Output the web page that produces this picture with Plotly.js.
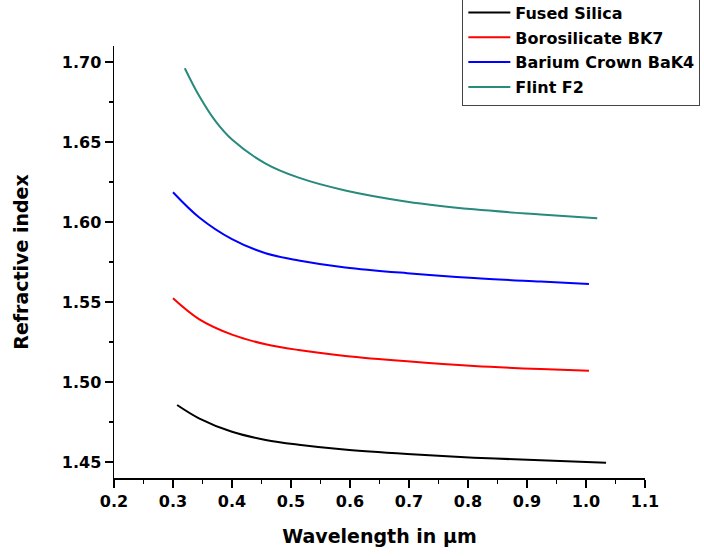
<!DOCTYPE html>
<html>
<head>
<meta charset="utf-8">
<script src="https://cdn.plot.ly/plotly-3.0.1.min.js"></script>
<style>html,body{margin:0;padding:0;background:#fff;}#chart{width:704px;height:556px;}</style>
</head>
<body>
<div id="chart"></div>
<script>
// Wavelength (µm) and refractive index
const silicaWl = [0.307, 0.344, 0.400, 0.457, 0.513, 0.590, 0.697, 0.810, 0.923, 1.034];
const silicaN  = [1.4856, 1.4773, 1.4689, 1.4638, 1.4608, 1.4578, 1.4550, 1.4527, 1.4511, 1.4496];

const bk7Wl = [0.300, 0.344, 0.400, 0.457, 0.513, 0.592, 0.697, 0.810, 0.923, 1.005];
const bk7N  = [1.5523, 1.5393, 1.5296, 1.5236, 1.5200, 1.5163, 1.5129, 1.5100, 1.5081, 1.5071];

const bak4Wl = [0.300, 0.344, 0.400, 0.457, 0.513, 0.592, 0.697, 0.810, 0.923, 1.005];
const bak4N  = [1.6186, 1.6030, 1.5893, 1.5805, 1.5760, 1.5716, 1.5680, 1.5650, 1.5628, 1.5613];

const f2Wl = [0.320, 0.344, 0.372, 0.400, 0.457, 0.513, 0.592, 0.697, 0.810, 0.923, 1.019];
const f2N  = [1.6961, 1.6790, 1.6630, 1.6515, 1.6365, 1.6277, 1.6197, 1.6127, 1.6079, 1.6047, 1.6023];

const seriesNames = ['Fused Silica', 'Borosilicate BK7', 'Barium Crown BaK4', 'Flint F2'];
const seriesColors = ['#000000', '#ff0000', '#0000ff', '#28897d'];

const xs = [silicaWl, bk7Wl, bak4Wl, f2Wl];
const ys = [silicaN, bk7N, bak4N, f2N];

const FONT = 'DejaVu Sans, Arial, sans-serif';

const traces = seriesNames.map((name, i) => ({
  type: 'scatter',
  mode: 'lines',
  name: name,
  x: xs[i],
  y: ys[i],
  legendgroup: 'g' + i,
  line: {color: seriesColors[i], width: 2, shape: 'spline', smoothing: 1},
  hoverinfo: 'x+y+name'
}));

const layout = {
  width: 704,
  height: 556,
  paper_bgcolor: '#ffffff',
  plot_bgcolor: '#ffffff',
  margin: {l: 113.5, r: 59.4, t: 46, b: 78, autoexpand: false},
  font: {family: FONT, color: '#000', size: 16},
  showlegend: true,
  legend: {
    x: 0.656, xanchor: 'left',
    y: 0.862, yanchor: 'bottom',
    bgcolor: '#ffffff',
    bordercolor: '#444444',
    borderwidth: 1,
    tracegroupgap: 1,
    itemwidth: 42,
    font: {family: FONT, size: 16, color: '#000', weight: 'bold'}
  },
  xaxis: {
    range: [0.2, 1.1],
    dtick: 0.1,
    tick0: 0.2,
    tickformat: '.1f',
    ticks: 'outside',
    ticklen: 8,
    tickwidth: 1.5,
    tickcolor: '#000',
    showline: true,
    linecolor: '#000',
    linewidth: 1.5,
    showgrid: false,
    zeroline: false,
    minor: {dtick: 0.05, ticks: 'outside', ticklen: 4, tickwidth: 1.5, tickcolor: '#000', showgrid: false},
    tickfont: {family: FONT, size: 16, color: '#000', weight: 'bold'},
    title: {text: 'Wavelength in µm', font: {family: FONT, size: 19, color: '#000', weight: 'bold'}, standoff: 20}
  },
  yaxis: {
    range: [1.44, 1.71],
    dtick: 0.05,
    tick0: 1.45,
    tickformat: '.2f',
    ticks: 'outside',
    ticklen: 8,
    tickwidth: 1.5,
    tickcolor: '#000',
    showline: true,
    linecolor: '#000',
    linewidth: 1.5,
    showgrid: false,
    zeroline: false,
    minor: {dtick: 0.025, ticks: 'outside', ticklen: 4, tickwidth: 1.5, tickcolor: '#000', showgrid: false},
    tickfont: {family: FONT, size: 16, color: '#000', weight: 'bold'},
    title: {text: 'Refractive index', font: {family: FONT, size: 19, color: '#000', weight: 'bold'}, standoff: 28}
  }
};

Plotly.newPlot('chart', traces, layout, {displayModeBar: false, staticPlot: true});
</script>
</body>
</html>
